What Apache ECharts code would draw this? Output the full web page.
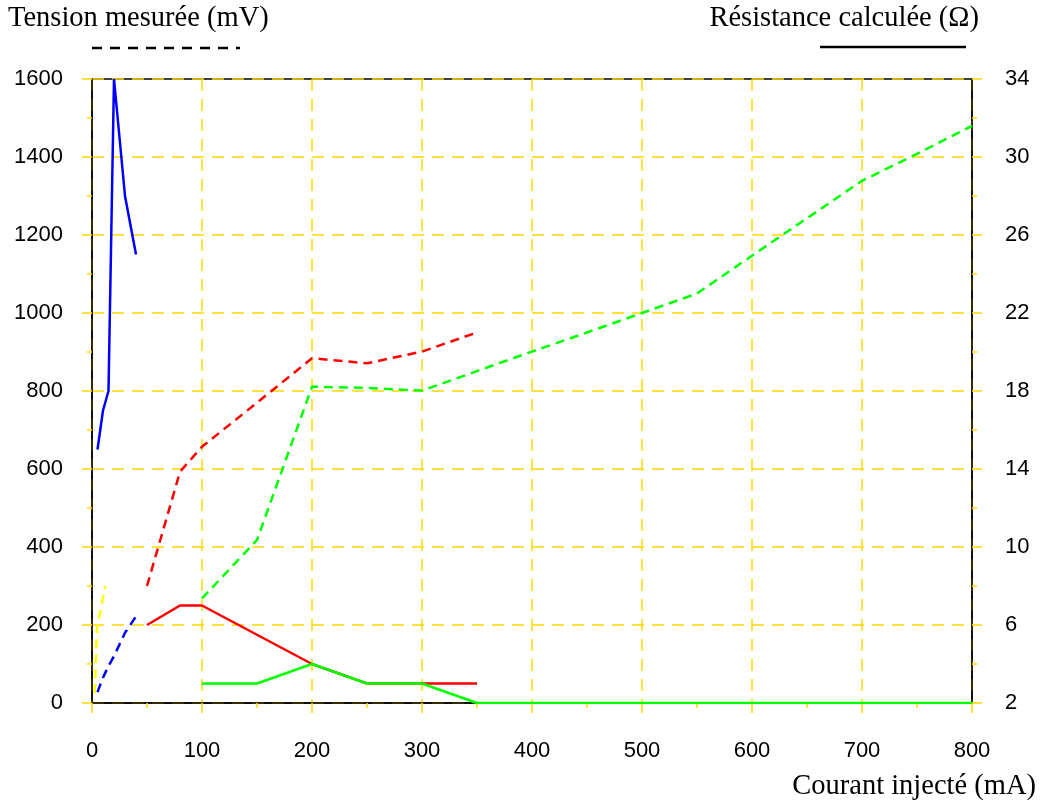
<!DOCTYPE html>
<html>
<head>
<meta charset="utf-8">
<script src="https://cdn.jsdelivr.net/npm/echarts@6/dist/echarts.min.js"></script>
<style>
html,body{margin:0;padding:0;background:#fff;}
#chart{width:1041px;height:802px;}
</style>
</head>
<body>
<div id="chart"></div>
<script>
// ---- data ----
const xBlue   = [5, 10, 15, 20, 30, 40];
const vBlue   = [28, 65, 95, 120, 180, 222];
const rBlue   = [15, 17, 18, 34, 28, 25];

const xYellow = [2.5, 4.5, 12];
const vYellow = [25, 190, 300];

const xRed    = [50, 80, 100, 150, 200, 250, 300, 350];
const vRed    = [300, 593, 657, 770, 884, 871, 901, 950];
const rRed    = [6, 7, 7, 5.5, 4, 3, 3, 3];

const xGreen  = [100, 150, 200, 250, 300, 350, 400, 450, 500, 550, 600, 650, 700, 750, 800];
const vGreen  = [268, 418, 811, 808, 801, 851, 901, 950, 1000, 1050, 1147, 1243, 1339, 1408, 1480];
const rGreen  = [3, 3, 4, 3, 3, 2, 2, 2, 2, 2, 2, 2, 2, 2, 2];

const xRange = {min: 0, max: 800, interval: 100};
const vRange = {min: 0, max: 1600, interval: 200};
const rRange = {min: 2, max: 34, interval: 4};

const titleLeft  = 'Tension mesurée (mV)';
const titleRight = 'Résistance calculée (Ω)';
const titleX     = 'Courant injecté (mA)';

// ---- chart ----
const pair = (xs, ys) => xs.map((x, i) => [x, ys[i]]);
const GOLD = '#ffd700';
const serif = {fontFamily: 'Liberation Serif', fontSize: 28.5, fontWeight: 'normal', color: '#000'};
const labelFont = {fontFamily: 'Liberation Sans', fontSize: 22, color: '#000', formatter: v => String(v)};
const DASH = [9, 6];

function dashed(xs, ys, color) {
  return {type: 'line', yAxisIndex: 0, data: pair(xs, ys), symbol: 'none',
    lineStyle: {color: color, width: 2.5, type: DASH}, z: 3};
}
function solid(xs, ys, color) {
  return {type: 'line', yAxisIndex: 1, data: pair(xs, ys), symbol: 'none',
    lineStyle: {color: color, width: 2.5, type: 'solid'}, z: 4};
}

const tickStyle = {show: true, inside: false, length: 10, lineStyle: {color: GOLD, width: 1.5}};
const minorStyle = {show: true, splitNumber: 2, length: 5, lineStyle: {color: GOLD, width: 1.5}};

const chart = echarts.init(document.getElementById('chart'), null, {renderer: 'canvas'});
chart.setOption({
  animation: false,
  backgroundColor: '#fff',
  title: [
    {text: titleLeft, left: 8, top: 4, padding: 0, textStyle: serif},
    {text: titleRight, right: 62, top: 4, padding: 0, textStyle: serif},
    {text: titleX, right: 5, top: 772, padding: 0, textStyle: serif}
  ],
  grid: {left: 92, right: 69, top: 79, bottom: 99, show: true, borderColor: '#000', borderWidth: 1.5, backgroundColor: 'transparent'},
  xAxis: {
    type: 'value', min: xRange.min, max: xRange.max, interval: xRange.interval,
    axisLine: {show: true, lineStyle: {color: '#000', width: 1.5}},
    axisTick: tickStyle, minorTick: minorStyle,
    axisLabel: Object.assign({margin: 37}, labelFont),
    splitLine: {show: true, lineStyle: {color: GOLD, width: 1.5, type: [12, 8]}},
    minorSplitLine: {show: false}
  },
  yAxis: [
    {
      type: 'value', position: 'left', min: vRange.min, max: vRange.max, interval: vRange.interval,
      axisLine: {show: true, lineStyle: {color: '#000', width: 1.5}},
      axisTick: tickStyle, minorTick: minorStyle,
      axisLabel: Object.assign({margin: 29, padding: [4, 0, 0, 0]}, labelFont),
      splitLine: {show: true, lineStyle: {color: GOLD, width: 1.5, type: [12, 8]}},
      minorSplitLine: {show: false}
    },
    {
      type: 'value', position: 'right', min: rRange.min, max: rRange.max, interval: rRange.interval,
      axisLine: {show: true, lineStyle: {color: '#000', width: 1.5}},
      axisTick: tickStyle, minorTick: minorStyle,
      axisLabel: Object.assign({margin: 33, padding: [4, 0, 0, 0]}, labelFont),
      splitLine: {show: false},
      minorSplitLine: {show: false}
    }
  ],
  graphic: [
    {type: 'line', shape: {x1: 92, y1: 48, x2: 240, y2: 48}, style: {stroke: '#000', lineWidth: 2.5, lineDash: [10, 8]}},
    {type: 'line', shape: {x1: 820, y1: 47, x2: 966, y2: 47}, style: {stroke: '#000', lineWidth: 2.5}}
  ],
  series: [
    dashed(xYellow, vYellow, '#ffff00'),
    dashed(xBlue, vBlue, '#0000ff'),
    dashed(xRed, vRed, '#ff0000'),
    dashed(xGreen, vGreen, '#00ff00'),
    solid(xBlue, rBlue, '#0000ff'),
    solid(xRed, rRed, '#ff0000'),
    solid(xGreen, rGreen, '#00ff00')
  ]
});
</script>
</body>
</html>
